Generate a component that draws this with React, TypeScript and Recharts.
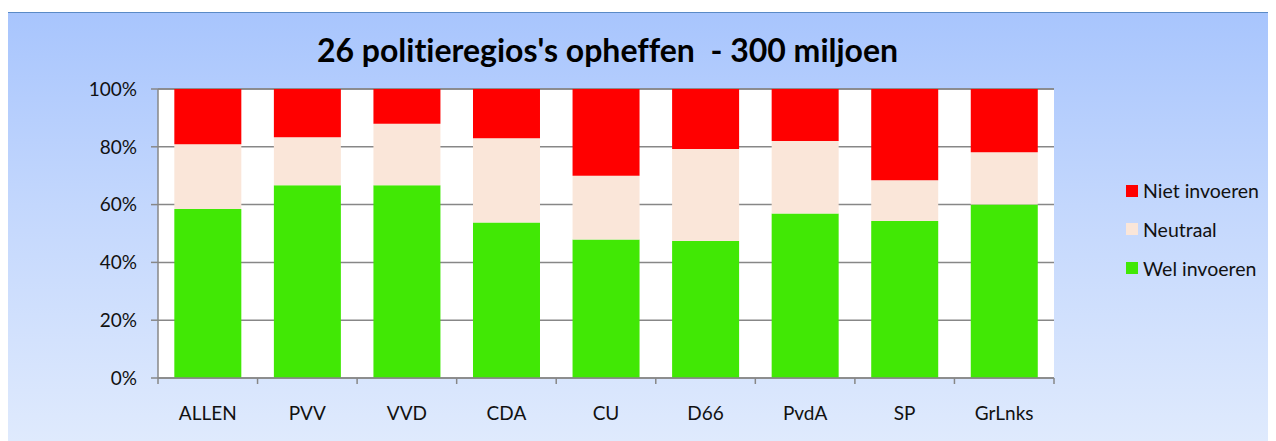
import React from "react";
import { BarChart, Bar, XAxis, YAxis, CartesianGrid } from "recharts";

const categories = ["ALLEN", "PVV", "VVD", "CDA", "CU", "D66", "PvdA", "SP", "GrLnks"];
const welInvoeren = [58.5, 66.7, 66.7, 53.8, 47.9, 47.4, 56.9, 54.3, 60.0];
const neutraal = [22.4, 16.6, 21.3, 29.2, 22.1, 31.8, 25.1, 14.1, 18.1];
const nietInvoeren = [19.1, 16.7, 12.0, 17.0, 30.0, 20.8, 18.0, 31.6, 21.9];
const yTicks = [0, 20, 40, 60, 80, 100];
const title = "26 politieregios's opheffen  - 300 miljoen";

const series = [
  { key: "wel", name: "Wel invoeren", color: "#41e805" },
  { key: "neutraal", name: "Neutraal", color: "#fae6d9" },
  { key: "niet", name: "Niet invoeren", color: "#ff0000" },
];

const data = categories.map((c, i) => ({
  name: c,
  wel: welInvoeren[i],
  neutraal: neutraal[i],
  niet: nietInvoeren[i],
}));

const FONT = "Lato, 'Open Sans', sans-serif";
const CHART_W = 1268;
const CHART_H = 428;
const PLOT_W = 896;
const GRID = "#878787";

const XTick = (props: any) => {
  const { x, y, payload, index } = props;
  const off = payload && payload.offset ? payload.offset : PLOT_W / categories.length / 2;
  const last = index === categories.length - 1;
  return (
    <g>
      <line x1={x - off} x2={x - off} y1={y} y2={y + 6} stroke={GRID} strokeWidth={1.5} />
      {last && <line x1={x + off} x2={x + off} y1={y} y2={y + 6} stroke={GRID} strokeWidth={1.5} />}
      <text x={x} y={y + 28.5} dy="0.71em" textAnchor="middle" fill="#111" fontSize={19} fontFamily={FONT}>
        {payload.value}
      </text>
    </g>
  );
};

export default function App() {
  return (
    <div
      style={{
        position: "relative",
        marginLeft: -1,
        marginTop: 4,
        width: CHART_W,
        height: CHART_H,
        border: "1px solid #5a8ac6",
        background: "linear-gradient(to bottom, #a8c5fd 0%, #c3d7fd 45%, #dfeafd 100%)",
        fontFamily: FONT,
        fontVariantLigatures: "none",
        overflow: "hidden",
      }}
    >
      <div
        style={{
          position: "absolute",
          left: 599.5,
          top: 20.5,
          transform: "translateX(-50%)",
          whiteSpace: "pre",
          fontSize: 32,
          lineHeight: 1,
          fontWeight: 700,
          color: "#000",
          fontFamily: FONT,
          fontVariantLigatures: "none",
        }}
      >
        {title}
      </div>
      <BarChart
        width={CHART_W}
        height={CHART_H}
        data={data}
        margin={{ top: 76, right: 222, left: 0, bottom: 0 }}
        barCategoryGap="16.4%"
      >
        <CartesianGrid vertical={false} horizontal={true} fill="#ffffff" stroke={GRID} strokeWidth={1.5} />
        <XAxis
          dataKey="name"
          height={63}
          axisLine={{ stroke: GRID, strokeWidth: 1.5 }}
          tickLine={false}
          tickSize={0}
          tickMargin={0}
          interval={0}
          tick={<XTick />}
        />
        <YAxis
          width={150}
          domain={[0, 100]}
          ticks={yTicks}
          interval={0}
          tickFormatter={(v: number) => `${v}%`}
          axisLine={{ stroke: GRID, strokeWidth: 1.5 }}
          tickLine={{ stroke: GRID, strokeWidth: 1.5 }}
          tickSize={7}
          tickMargin={14}
          tick={{ fill: "#111", fontSize: 19, fontFamily: FONT }}
        />
        {series.map((s) => (
          <Bar key={s.key} dataKey={s.key} name={s.name} stackId="a" fill={s.color} isAnimationActive={false} />
        ))}
      </BarChart>
      {[...series].reverse().map((s, i) => (
        <div
          key={s.key}
          style={{
            position: "absolute",
            left: 1118,
            top: 177.7 + i * 38.7 - 12,
            height: 24,
            display: "flex",
            alignItems: "center",
            fontSize: 19.5,
            color: "#111",
            whiteSpace: "nowrap",
          }}
        >
          <span style={{ display: "inline-block", width: 12, height: 12, background: s.color, marginRight: 5 }} />
          <span>{s.name}</span>
        </div>
      ))}
    </div>
  );
}
